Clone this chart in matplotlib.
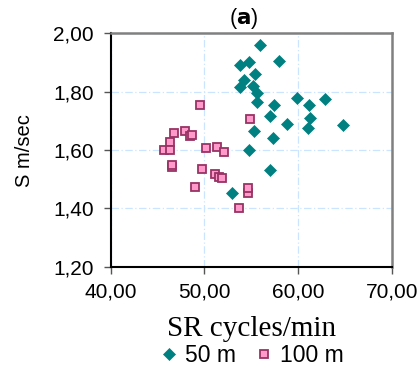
import matplotlib
matplotlib.use("Agg")
import matplotlib.pyplot as plt
from matplotlib.ticker import FixedLocator, FuncFormatter

# 50 m data (SR cycles/min, S m/sec)
sr_50 = [55.95, 58.01, 53.83, 54.75, 55.43, 54.18, 53.83, 55.18, 55.60, 55.60,
         57.44, 59.93, 61.17, 62.91, 57.05, 58.79, 61.28, 61.06, 64.82, 55.32,
         57.31, 54.75, 56.99, 53.00]
s_50 = [1.961, 1.905, 1.892, 1.903, 1.860, 1.840, 1.815, 1.820, 1.795, 1.766,
        1.754, 1.779, 1.755, 1.774, 1.717, 1.691, 1.709, 1.674, 1.686, 1.666,
        1.643, 1.601, 1.531, 1.452]

# 100 m data
sr_100 = [49.57, 54.85, 46.80, 47.91, 48.44, 48.72, 46.38, 45.74, 46.38, 50.17,
          51.31, 52.12, 46.56, 46.56, 49.78, 51.13, 51.59, 51.91, 49.04, 54.71,
          54.71, 53.72]
s_100 = [1.753, 1.707, 1.658, 1.666, 1.647, 1.652, 1.627, 1.601, 1.601, 1.606,
         1.610, 1.592, 1.542, 1.550, 1.535, 1.518, 1.508, 1.504, 1.474, 1.453,
         1.469, 1.400]

x_ticks = [40, 50, 60, 70]
y_ticks = [1.20, 1.40, 1.60, 1.80, 2.00]

fig = plt.figure(figsize=(4.2, 3.69), dpi=100)
ax = fig.add_axes([0.2636, 0.2767, 0.6690, 0.6331])

teal = "#008080"
ax.plot(sr_50, s_50, linestyle="none", marker="D", markersize=6.0,
        color=teal, markeredgecolor=teal, markeredgewidth=0.5, label="50 m", zorder=3)
ax.plot(sr_100, s_100, linestyle="none", marker="s", markersize=6.2,
        markerfacecolor="#FF99CC", markeredgecolor="#993366", markeredgewidth=1.3,
        label="100 m", zorder=3)

ax.set_xlim(40, 70)
ax.set_ylim(1.20, 2.00)
ax.xaxis.set_major_locator(FixedLocator(x_ticks))
ax.yaxis.set_major_locator(FixedLocator(y_ticks))
fmt = FuncFormatter(lambda v, p: f"{v:.2f}".replace(".", ","))
ax.xaxis.set_major_formatter(fmt)
ax.yaxis.set_major_formatter(fmt)

ax.grid(True, color="#CCE5FF", linestyle=(0, (6, 2, 1, 2)), linewidth=0.9, zorder=0)
ax.set_axisbelow(True)

for s in ["left", "bottom"]:
    ax.spines[s].set_color("black")
    ax.spines[s].set_linewidth(1.5)
for s in ["top", "right"]:
    ax.spines[s].set_color("#808080")
    ax.spines[s].set_linewidth(1.8)

ax.tick_params(axis="both", direction="out", length=5, width=1.0,
               labelsize=15, color="#555555")
ax.tick_params(axis="x", pad=6)
ax.tick_params(axis="y", pad=7)
for lab in ax.get_xticklabels() + ax.get_yticklabels():
    lab.set_family("Liberation Sans")

ax.set_ylabel("S m/sec", fontsize=14.5, family="Liberation Sans", labelpad=14)
ax.set_xlabel("SR cycles/min", fontsize=21, family="Liberation Serif", labelpad=11)

ax.set_title(r"($\mathbf{a}$)", fontsize=15.5, family="Liberation Sans", pad=6.5, x=0.475)

leg = fig.legend(loc="center", bbox_to_anchor=(0.60, 0.036), ncol=2, frameon=False,
                 prop={"family": "Liberation Sans", "size": 16.5},
                 handlelength=0.8, handletextpad=0.3, columnspacing=0.8, borderpad=0)

fig.savefig("out.png", dpi=100)
